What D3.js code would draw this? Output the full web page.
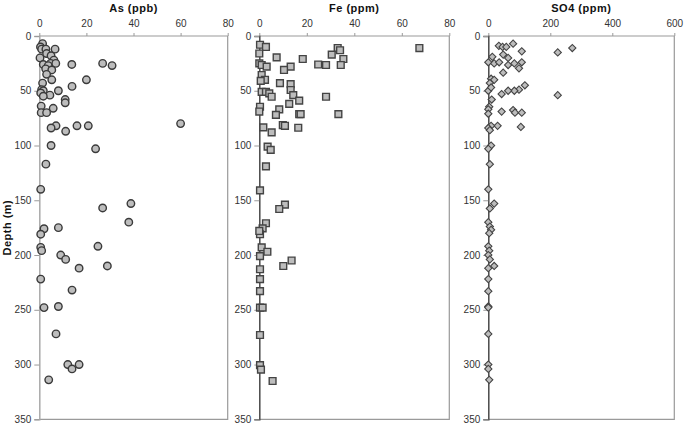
<!DOCTYPE html>
<html>
<head>
<meta charset="utf-8">
<script src="https://cdn.jsdelivr.net/npm/d3@7"></script>
<style>
  html, body { margin: 0; padding: 0; background: #fff; }
  svg { display: block; }
  text { font-family: "Liberation Sans", Arial, sans-serif; }
</style>
</head>
<body>
<svg id="chart" width="685" height="424"></svg>
<script>
// ---- data: [value, depth (m)] ----
const asPoints = [[1.4,7],[0.5,10],[1,12],[2.8,12],[6.7,12],[3.1,16],[5,18],[0.3,20],[6.2,22],[4.8,25],
  [1.7,26],[3.8,27],[7,25],[13.8,26],[26.9,25],[30.9,27],[2.7,30],[5.3,31],[3.1,35],[5.3,40],[20,40],
  [1.4,43],[13.9,46],[1,49],[1.7,50],[0.6,52],[8.1,50],[4.5,54],[1.7,55],[11,58],[11,61],[0.8,64],
  [5.9,66],[0.8,70],[3.1,70],[60,80],[16,82],[20.8,82],[7.1,82],[5,84],[11.2,87],[5,100],[23.9,103],
  [2.8,117],[0.6,140],[38.9,153],[26.9,157],[38,170],[8.1,175],[2,176],[0.6,181],[24.9,192],[0.6,193],
  [1,196],[9.1,200],[11.2,204],[28.9,210],[16.9,212],[0.6,222],[13.9,232],[2,248],[8.1,247],[7.1,272],
  [12.1,300],[16.9,300],[13.9,304],[4,314]];
const fePoints = [[0.3,8],[2.8,10],[33,11],[34,13],[67.4,11],[0,16],[30.5,17],[7.3,19.5],[18.3,21],[35.4,21],
  [0,25],[1,26.5],[3.1,28],[13.2,28],[24.8,26],[28.1,26.5],[34.3,26.5],[10.4,31],[1,35.6],[2.4,40],[0.6,41],
  [8.7,43],[13.2,44],[1,51],[2.8,51],[4.2,52.4],[5.2,55.5],[13.2,49.3],[14.3,54],[16.8,59],[12.6,62],
  [28.1,55.5],[0.3,64.6],[0,69],[8.4,67],[7,72],[16.8,71.3],[17.4,71.3],[33.3,71.3],[1.7,83.4],[9.9,81.3],
  [10.8,82],[16.4,83.8],[5.2,88],[3.5,101],[4.8,104],[2.8,119],[0.3,141],[10.8,154],[8.4,158],[2.8,171],
  [1.4,175.7],[0.3,181],[0,178],[1,193],[3.4,197],[0.3,201],[13.6,205],[10.1,210],[0.3,213],[0.3,222],
  [0.3,233],[0.3,248],[1.4,248],[0.3,273],[0.3,300.6],[0.7,304.6],[5.6,315]];
const so4Points = [[80,7],[34,9],[46,10],[58,10],[271,11],[108,14],[224,15],[48,17],[64,20],[13,19],[0,24],
  [19,25],[35,24],[64,26.5],[84,25],[108,24],[99,29.5],[48,33.5],[9,39],[19,40],[5,43],[118,45],[99,49],
  [84,50],[64,50],[43,53],[224,54],[0,50],[9,47],[11,58],[3,64.6],[0,67],[43,69],[80,67.6],[86,70],
  [108,70],[0,71],[30,82],[9,82],[105,83],[0,84],[5,86],[9,100],[0,103],[5,117],[0,140],[19,153],
  [5,157.5],[0,170],[5,174],[9,177],[3,180],[0,192],[3,196],[0,200],[5,204],[19,210],[0,212],[0,222],
  [0,233],[0,247],[0,248],[0,272],[0,300],[0,304],[3,314]];

const titles = ["As (ppb)", "Fe (ppm)", "SO4 (ppm)"];
const xTicksAs = [0, 20, 40, 60, 80];
const xTicksFe = [0, 20, 40, 60, 80];
const xTicksSO4 = [0, 200, 400, 600];
const depthTicks = [0, 50, 100, 150, 200, 250, 300, 350];
const yTitle = "Depth (m)";

// ---- layout ----
const svg = d3.select("#chart");
const plotTop = 36, plotBottom = 419.3;
const y = d3.scaleLinear().domain([0, 350]).range([plotTop, plotBottom]);

const panels = [
  { title: titles[0], data: asPoints, ticks: xTicksAs, domain: [0, 80], range: [39.3, 227.7], shape: "circle", axisColor: "#aaaaaa" },
  { title: titles[1], data: fePoints, ticks: xTicksFe, domain: [0, 80], range: [259.3, 449.3], shape: "square", axisColor: "#4a4a4a" },
  { title: titles[2], data: so4Points, ticks: xTicksSO4, domain: [0, 600], range: [488.3, 674.3], shape: "diamond", axisColor: "#4a4a4a" }
];

panels.forEach(p => {
  const x = d3.scaleLinear().domain(p.domain).range(p.range);
  const g = svg.append("g");

  // plot border (top, right, bottom)
  g.append("path")
    .attr("d", `M${p.range[0]},${plotTop}H${p.range[1]}V${plotBottom}H${p.range[0]}`)
    .attr("fill", "none").attr("stroke", "#9a9a9a").attr("stroke-width", 1.2);

  // top x axis
  const xAxis = g.append("g").attr("transform", `translate(0,${plotTop})`)
    .call(d3.axisTop(x).tickValues(p.ticks).tickSize(3).tickPadding(6).tickFormat(d3.format("d")));
  xAxis.select(".domain").remove();
  xAxis.selectAll("line").attr("stroke", "#9a9a9a");
  xAxis.selectAll("text").attr("font-size", 10).attr("fill", "#333")
    .attr("font-family", "Liberation Sans, Arial, sans-serif");

  // left y axis
  const yAxis = g.append("g").attr("transform", `translate(${p.range[0]},0)`)
    .call(d3.axisLeft(y).tickValues(depthTicks).tickSize(5).tickPadding(3).tickFormat(d3.format("d")));
  yAxis.select(".domain").attr("stroke", p.axisColor).attr("stroke-width", 1.5);
  yAxis.selectAll("line").attr("stroke", "#9a9a9a");
  yAxis.selectAll("text").attr("font-size", 10).attr("fill", "#333")
    .attr("font-family", "Liberation Sans, Arial, sans-serif");

  // title
  g.append("text")
    .attr("x", (p.range[0] + p.range[1]) / 2).attr("y", 11.5)
    .attr("text-anchor", "middle")
    .attr("font-size", 11).attr("font-weight", "bold").attr("letter-spacing", 0.5)
    .attr("fill", "#111")
    .text(p.title);

  // markers
  const isDiamond = p.shape === "diamond";
  const sym = p.shape === "circle" ? d3.symbolCircle : d3.symbolSquare;
  const size = p.shape === "circle" ? 44 : (isDiamond ? 26 : 46);
  g.append("g").selectAll("path").data(p.data).join("path")
    .attr("transform", d => `translate(${x(d[0])},${y(d[1])})` + (isDiamond ? " rotate(45)" : ""))
    .attr("d", d3.symbol().type(sym).size(size))
    .attr("fill", "#bdbdbd")
    .attr("stroke", p.shape === "circle" ? "#3a3a3a" : "#444")
    .attr("stroke-width", isDiamond ? 1.1 : 1.4);
});

// y title
svg.append("text")
  .attr("transform", `translate(10.5,${(plotTop + plotBottom) / 2}) rotate(-90)`)
  .attr("text-anchor", "middle")
  .attr("font-size", 11).attr("font-weight", "bold").attr("letter-spacing", 0.5)
  .attr("fill", "#111")
  .text(yTitle);
</script>
</body>
</html>
